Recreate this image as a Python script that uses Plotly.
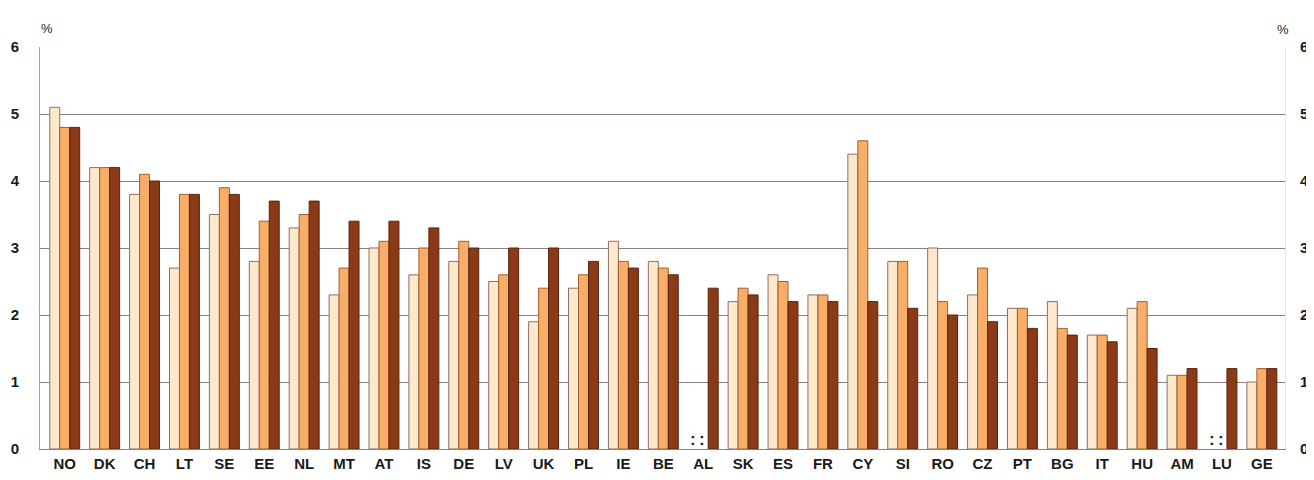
import plotly.graph_objects as go

countries = ["NO", "DK", "CH", "LT", "SE", "EE", "NL", "MT", "AT", "IS", "DE", "LV", "UK", "PL", "IE", "BE",
             "AL", "SK", "ES", "FR", "CY", "SI", "RO", "CZ", "PT", "BG", "IT", "HU", "AM", "LU", "GE"]
series1 = [5.1, 4.2, 3.8, 2.7, 3.5, 2.8, 3.3, 2.3, 3.0, 2.6, 2.8, 2.5, 1.9, 2.4, 3.1, 2.8,
           None, 2.2, 2.6, 2.3, 4.4, 2.8, 3.0, 2.3, 2.1, 2.2, 1.7, 2.1, 1.1, None, 1.0]
series2 = [4.8, 4.2, 4.1, 3.8, 3.9, 3.4, 3.5, 2.7, 3.1, 3.0, 3.1, 2.6, 2.4, 2.6, 2.8, 2.7,
           None, 2.4, 2.5, 2.3, 4.6, 2.8, 2.2, 2.7, 2.1, 1.8, 1.7, 2.2, 1.1, None, 1.2]
series3 = [4.8, 4.2, 4.0, 3.8, 3.8, 3.7, 3.7, 3.4, 3.4, 3.3, 3.0, 3.0, 3.0, 2.8, 2.7, 2.6,
           2.4, 2.3, 2.2, 2.2, 2.2, 2.1, 2.0, 1.9, 1.8, 1.7, 1.6, 1.5, 1.2, 1.2, 1.2]
missing = ["AL", "LU"]
yticks = [0, 1, 2, 3, 4, 5, 6]

FONT = "Liberation Sans"
fig = go.Figure()
fig.add_trace(go.Bar(x=countries, y=series1, marker=dict(color="#fde8cc", line=dict(color="#8a7066", width=1))))
fig.add_trace(go.Bar(x=countries, y=series2, marker=dict(color="#f8ad68", line=dict(color="#a0602a", width=1))))
fig.add_trace(go.Bar(x=countries, y=series3, marker=dict(color="#8a3a16", line=dict(color="#5a2410", width=1))))
# invisible trace for right axis
fig.add_trace(go.Scatter(x=countries, y=series3, yaxis="y2", mode="lines",
                         line=dict(width=0), opacity=0, hoverinfo="skip", showlegend=False))

annotations = []
for c in missing:
    for shift in (-10, -1):
        annotations.append(dict(x=c, y=0, xref="x", yref="y", text=":", showarrow=False,
                                xshift=shift, yshift=10,
                                font=dict(size=17, color="#222", family=FONT, weight="bold")))
annotations += [
    dict(x=0, y=1, xref="paper", yref="paper", text="%", showarrow=False, xanchor="left", yanchor="bottom",
         xshift=-1, yshift=9, font=dict(family=FONT, size=13, color="#222")),
    dict(x=1, y=1, xref="paper", yref="paper", text="%", showarrow=False, xanchor="right", yanchor="bottom",
         xshift=6, yshift=8, font=dict(family=FONT, size=13, color="#222")),
]

tickfont = dict(family=FONT, size=15, color="#1a1a1a", weight="bold")
fig.update_layout(
    width=1306, height=464,
    margin=dict(l=32, r=29, t=39, b=23, autoexpand=False),
    paper_bgcolor="white", plot_bgcolor="white",
    barmode="group", bargap=0.25, bargroupgap=0,
    showlegend=False,
    xaxis=dict(range=[-0.62, len(countries) - 0.42], autorange=False, tickfont=tickfont,
               showline=True, linecolor="#8c7d86", linewidth=1, ticks="", ticklabelstandoff=1,
               automargin=False, ticklabeloverflow="allow"),
    yaxis=dict(range=[0, 6], tickvals=yticks, showgrid=True, gridcolor="#8c7d86", gridwidth=1,
               showline=True, linecolor="#a8a0a4", linewidth=1, zeroline=False,
               tickfont=tickfont, ticklabelstandoff=17, automargin=False),
    yaxis2=dict(range=[0, 6], tickvals=yticks, overlaying="y", side="right", showgrid=False,
                showline=True, linecolor="#e4e0e2", linewidth=1, zeroline=False,
                tickfont=tickfont, ticklabelstandoff=11, automargin=False,
                ticklabeloverflow="allow"),
    annotations=annotations,
)

fig.write_html("out.html")
